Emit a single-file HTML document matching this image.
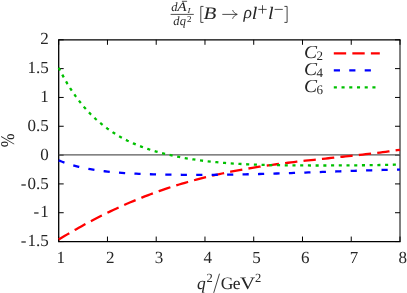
<!DOCTYPE html>
<html><head><meta charset="utf-8"><title>plot</title>
<style>
html,body{margin:0;padding:0;background:#fff;}
body{width:407px;height:293px;overflow:hidden;}
svg{display:block;font-family:"Liberation Serif",serif;will-change:transform;text-rendering:geometricPrecision;}
text{fill:#262626;}
</style></head><body>
<svg width="407" height="293" viewBox="0 0 407 293">
<rect width="407" height="293" fill="#fff"/>

<g stroke="#000" stroke-width="1.3" fill="none">
<path d="M58.70 39.15 V242.20 M58.70 39.80 H400.55 M58.70 241.55 H400.55"/>
<path d="M400.00 39.80 V241.55" stroke-width="1.0"/>
<path d="M58.70 241.55 v-5.00 M58.70 39.80 v5.00 M58.70 39.80 h5.00 M400.00 39.80 h-5.00 M107.46 241.55 v-5.00 M107.46 39.80 v5.00 M58.70 68.62 h5.00 M400.00 68.62 h-5.00 M156.21 241.55 v-5.00 M156.21 39.80 v5.00 M58.70 97.44 h5.00 M400.00 97.44 h-5.00 M204.97 241.55 v-5.00 M204.97 39.80 v5.00 M58.70 126.26 h5.00 M400.00 126.26 h-5.00 M253.73 241.55 v-5.00 M253.73 39.80 v5.00 M58.70 155.09 h5.00 M400.00 155.09 h-5.00 M302.49 241.55 v-5.00 M302.49 39.80 v5.00 M58.70 183.91 h5.00 M400.00 183.91 h-5.00 M351.24 241.55 v-5.00 M351.24 39.80 v5.00 M58.70 212.73 h5.00 M400.00 212.73 h-5.00 M400.00 241.55 v-5.00 M400.00 39.80 v5.00 M58.70 241.55 h5.00 M400.00 241.55 h-5.00" stroke-width="1"/>
</g>
<line x1="58.70" y1="154.95" x2="400.00" y2="154.95" stroke="#5a5a5a" stroke-width="1.3"/>
<g fill="none" stroke-width="2.30" stroke-linejoin="round">
<path d="M58.70 239.57 L61.57 237.82 L64.44 236.09 L67.30 234.38 L70.17 232.70 L73.04 231.04 L75.91 229.39 L78.78 227.77 L81.64 226.17 L84.51 224.60 L87.38 223.04 L90.25 221.51 L93.12 219.99 L95.98 218.50 L98.85 217.03 L101.72 215.59 L104.59 214.16 L107.46 212.75 L110.33 211.37 L113.19 210.01 L116.06 208.67 L118.93 207.35 L121.80 206.05 L124.67 204.77 L127.53 203.52 L130.40 202.28 L133.27 201.07 L136.14 199.88 L139.01 198.71 L141.87 197.56 L144.74 196.43 L147.61 195.32 L150.48 194.24 L153.35 193.17 L156.21 192.13 L159.08 191.11 L161.95 190.11 L164.82 189.12 L167.69 188.16 L170.55 187.22 L173.42 186.30 L176.29 185.40 L179.16 184.52 L182.03 183.66 L184.89 182.82 L187.76 182.00 L190.63 181.19 L193.50 180.41 L196.37 179.64 L199.24 178.89 L202.10 178.16 L204.97 177.44 L207.84 176.75 L210.71 176.06 L213.58 175.40 L216.44 174.75 L219.31 174.12 L222.18 173.50 L225.05 172.90 L227.92 172.31 L230.78 171.74 L233.65 171.18 L236.52 170.63 L239.39 170.10 L242.26 169.58 L245.12 169.08 L247.99 168.58 L250.86 168.10 L253.73 167.63 L256.60 167.17 L259.46 166.72 L262.33 166.29 L265.20 165.86 L268.07 165.44 L270.94 165.03 L273.81 164.64 L276.67 164.24 L279.54 163.86 L282.41 163.49 L285.28 163.12 L288.15 162.76 L291.01 162.41 L293.88 162.06 L296.75 161.72 L299.62 161.39 L302.49 161.06 L305.35 160.73 L308.22 160.41 L311.09 160.09 L313.96 159.78 L316.83 159.47 L319.69 159.16 L322.56 158.85 L325.43 158.55 L328.30 158.25 L331.17 157.94 L334.03 157.64 L336.90 157.34 L339.77 157.04 L342.64 156.74 L345.51 156.43 L348.37 156.13 L351.24 155.82 L354.11 155.51 L356.98 155.20 L359.85 154.88 L362.72 154.56 L365.58 154.23 L368.45 153.90 L371.32 153.57 L374.19 153.23 L377.06 152.88 L379.92 152.52 L382.79 152.16 L385.66 151.79 L388.53 151.41 L391.40 151.03 L394.26 150.63 L397.13 150.22 L400.00 149.81" stroke="#ff0000" stroke-dasharray="12.36 6.18"/>
<path d="M58.70 160.34 L61.57 161.50 L64.44 162.57 L67.30 163.56 L70.17 164.47 L73.04 165.31 L75.91 166.09 L78.78 166.81 L81.64 167.47 L84.51 168.08 L87.38 168.64 L90.25 169.17 L93.12 169.65 L95.98 170.09 L98.85 170.50 L101.72 170.88 L104.59 171.24 L107.46 171.56 L110.33 171.86 L113.19 172.14 L116.06 172.40 L118.93 172.64 L121.80 172.85 L124.67 173.05 L127.53 173.24 L130.40 173.41 L133.27 173.56 L136.14 173.70 L139.01 173.83 L141.87 173.95 L144.74 174.06 L147.61 174.15 L150.48 174.24 L153.35 174.32 L156.21 174.40 L159.08 174.46 L161.95 174.52 L164.82 174.57 L167.69 174.62 L170.55 174.66 L173.42 174.70 L176.29 174.73 L179.16 174.76 L182.03 174.78 L184.89 174.80 L187.76 174.82 L190.63 174.83 L193.50 174.84 L196.37 174.84 L199.24 174.84 L202.10 174.84 L204.97 174.83 L207.84 174.81 L210.71 174.80 L213.58 174.78 L216.44 174.75 L219.31 174.73 L222.18 174.70 L225.05 174.66 L227.92 174.62 L230.78 174.58 L233.65 174.54 L236.52 174.49 L239.39 174.44 L242.26 174.38 L245.12 174.33 L247.99 174.26 L250.86 174.20 L253.73 174.14 L256.60 174.07 L259.46 174.00 L262.33 173.92 L265.20 173.84 L268.07 173.77 L270.94 173.68 L273.81 173.60 L276.67 173.52 L279.54 173.43 L282.41 173.34 L285.28 173.25 L288.15 173.16 L291.01 173.06 L293.88 172.97 L296.75 172.87 L299.62 172.77 L302.49 172.67 L305.35 172.57 L308.22 172.47 L311.09 172.37 L313.96 172.26 L316.83 172.16 L319.69 172.06 L322.56 171.95 L325.43 171.85 L328.30 171.75 L331.17 171.64 L334.03 171.54 L336.90 171.43 L339.77 171.33 L342.64 171.23 L345.51 171.13 L348.37 171.03 L351.24 170.93 L354.11 170.83 L356.98 170.74 L359.85 170.64 L362.72 170.55 L365.58 170.46 L368.45 170.37 L371.32 170.29 L374.19 170.20 L377.06 170.12 L379.92 170.04 L382.79 169.97 L385.66 169.89 L388.53 169.83 L391.40 169.76 L394.26 169.70 L397.13 169.64 L400.00 169.59" stroke="#0000ff" stroke-dasharray="6.18 9.27"/>
<path d="M58.70 67.83 L61.57 73.40 L64.44 78.64 L67.30 83.56 L70.17 88.18 L73.04 92.53 L75.91 96.61 L78.78 100.46 L81.64 104.07 L84.51 107.48 L87.38 110.69 L90.25 113.71 L93.12 116.56 L95.98 119.25 L98.85 121.80 L101.72 124.20 L104.59 126.47 L107.46 128.61 L110.33 130.64 L113.19 132.56 L116.06 134.38 L118.93 136.09 L121.80 137.71 L124.67 139.24 L127.53 140.69 L130.40 142.06 L133.27 143.35 L136.14 144.58 L139.01 145.74 L141.87 146.84 L144.74 147.88 L147.61 148.87 L150.48 149.80 L153.35 150.69 L156.21 151.54 L159.08 152.34 L161.95 153.11 L164.82 153.84 L167.69 154.53 L170.55 155.19 L173.42 155.82 L176.29 156.42 L179.16 156.99 L182.03 157.53 L184.89 158.04 L187.76 158.53 L190.63 159.00 L193.50 159.44 L196.37 159.86 L199.24 160.25 L202.10 160.63 L204.97 160.98 L207.84 161.32 L210.71 161.63 L213.58 161.93 L216.44 162.21 L219.31 162.47 L222.18 162.72 L225.05 162.95 L227.92 163.17 L230.78 163.37 L233.65 163.56 L236.52 163.74 L239.39 163.90 L242.26 164.05 L245.12 164.19 L247.99 164.33 L250.86 164.45 L253.73 164.56 L256.60 164.66 L259.46 164.76 L262.33 164.84 L265.20 164.92 L268.07 165.00 L270.94 165.06 L273.81 165.12 L276.67 165.18 L279.54 165.22 L282.41 165.27 L285.28 165.31 L288.15 165.34 L291.01 165.37 L293.88 165.39 L296.75 165.42 L299.62 165.43 L302.49 165.45 L305.35 165.46 L308.22 165.47 L311.09 165.48 L313.96 165.48 L316.83 165.49 L319.69 165.49 L322.56 165.48 L325.43 165.48 L328.30 165.48 L331.17 165.47 L334.03 165.46 L336.90 165.45 L339.77 165.43 L342.64 165.42 L345.51 165.40 L348.37 165.38 L351.24 165.36 L354.11 165.34 L356.98 165.32 L359.85 165.29 L362.72 165.26 L365.58 165.23 L368.45 165.19 L371.32 165.15 L374.19 165.11 L377.06 165.07 L379.92 165.02 L382.79 164.97 L385.66 164.92 L388.53 164.86 L391.40 164.79 L394.26 164.72 L397.13 164.65 L400.00 164.56" stroke="#00c000" stroke-dasharray="3.09 4.63"/>
<path d="M333.8 53.3 H379.8" stroke="#ff0000" stroke-dasharray="12.36 6.18"/>
<path d="M333.8 70.4 H379.8" stroke="#0000ff" stroke-dasharray="6.18 9.27"/>
<path d="M333.8 87.35 H379.8" stroke="#00c000" stroke-dasharray="3.09 4.63"/>
</g>
<g font-size="17.0px" text-anchor="end">
<text x="48.8" y="44.40">2</text>
<text x="48.8" y="73.22">1.5</text>
<text x="48.8" y="102.04">1</text>
<text x="48.8" y="130.86">0.5</text>
<text x="48.8" y="159.69">0</text>
<text x="48.8" y="188.51"><tspan letter-spacing="1.2">-</tspan>0.5</text>
<text x="48.8" y="217.33"><tspan letter-spacing="1.2">-</tspan>1</text>
<text x="48.8" y="246.15"><tspan letter-spacing="1.2">-</tspan>1.5</text>
</g>
<g font-size="17.0px" text-anchor="middle">
<text x="60.70" y="263.4">1</text>
<text x="110.26" y="263.4">2</text>
<text x="159.01" y="263.4">3</text>
<text x="207.77" y="263.4">4</text>
<text x="256.53" y="263.4">5</text>
<text x="305.29" y="263.4">6</text>
<text x="354.04" y="263.4">7</text>
<text x="402.80" y="263.4">8</text>
</g>
<text font-size="17.0px" text-anchor="middle" transform="translate(14.4,140.35) rotate(-90) scale(0.97,1.14)">%</text>
<text x="197.00" y="289.00" font-size="17.50px" font-style="italic">q</text>
<text x="206.40" y="282.20" font-size="12.50px">2</text>
<path d="M213.7 292.9 L219.5 273.7" stroke="#222" stroke-width="0.85" fill="none"/>
<text x="220.80" y="289.00" font-size="17.50px">G</text>
<text x="232.80" y="289.00" font-size="17.50px">e</text>
<text transform="translate(239.9,289) scale(1.2,1)" font-size="17.5px">V</text>
<text x="254.90" y="282.20" font-size="12.50px">2</text>
<text font-size="18.3px" transform="translate(304.0,58.2) scale(1.07,1)" font-style="italic">C</text><text font-size="13px" x="316.4" y="60.2">2</text>
<text font-size="18.3px" transform="translate(304.0,75.3) scale(1.07,1)" font-style="italic">C</text><text font-size="13px" x="316.4" y="77.3">4</text>
<text font-size="18.3px" transform="translate(304.0,92.2) scale(1.07,1)" font-style="italic">C</text><text font-size="13px" x="316.4" y="94.2">6</text>
<text transform="translate(171.30,11.40) scale(1.000,1)" font-size="12.50px" font-style="italic">d</text>
<text transform="translate(177.30,11.40) scale(1.200,1)" font-size="12.80px" font-style="italic">A</text>
<text transform="translate(187.40,13.40) scale(1.150,1)" font-size="7.50px" font-style="italic">I</text>
<text transform="translate(173.20,24.90) scale(1.000,1)" font-size="12.50px" font-style="italic">d</text>
<text transform="translate(179.80,24.90) scale(1.000,1)" font-size="12.50px" font-style="italic">q</text>
<text transform="translate(186.90,21.50) scale(1.000,1)" font-size="9.00px">2</text>
<path d="M181.9 1.3 h5.2" stroke="#222" stroke-width="0.8"/>
<path d="M170.6 14.4 h23.2" stroke="#222" stroke-width="0.8"/>
<path d="M203.5 6.4 H200.8 V22.4 H203.5" stroke="#222" stroke-width="0.85" fill="none"/>
<text transform="translate(203.40,18.50) scale(1.200,1)" font-size="17.50px" font-style="italic">B</text>
<path d="M222.3 14.4 H236.9 M232.6 10.0 C233.4 12.3 235.2 13.8 237.3 14.4 C235.2 15.0 233.4 16.5 232.6 18.8" stroke="#222" stroke-width="0.8" fill="none"/>
<text transform="translate(243.60,18.20) scale(1.000,1)" font-size="17.50px" font-style="italic">ρ</text>
<text transform="translate(251.80,18.60) scale(1.150,1)" font-size="17.50px" font-style="italic">l</text>
<path d="M258.3 9.4 h8.4 M262.5 5.2 v8.4" stroke="#222" stroke-width="0.8" fill="none"/>
<text transform="translate(268.10,18.60) scale(1.150,1)" font-size="17.50px" font-style="italic">l</text>
<path d="M274.6 9.4 h8.2" stroke="#222" stroke-width="0.8" fill="none"/>
<path d="M284.4 6.4 H287.1 V22.4 H284.4" stroke="#222" stroke-width="0.85" fill="none"/>
</svg></body></html>
